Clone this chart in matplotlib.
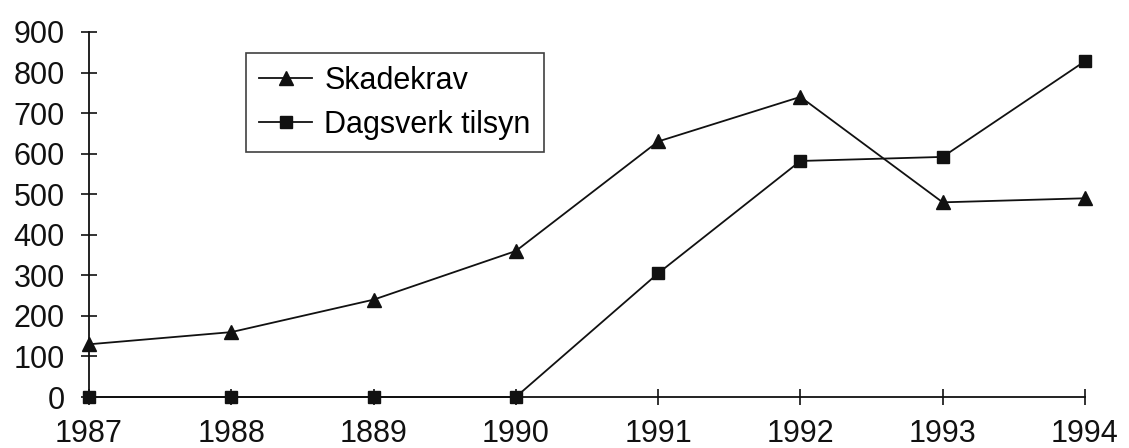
import matplotlib
matplotlib.use('Agg')
import matplotlib.pyplot as plt

plt.rcParams['font.family'] = ['Liberation Sans', 'DejaVu Sans']

# data
years = [1987, 1988, 1989, 1990, 1991, 1992, 1993, 1994]
year_labels = ['1987', '1988', '1889', '1990', '1991', '1992', '1993', '1994']
skadekrav = [130, 160, 240, 360, 630, 740, 480, 490]
dagsverk = [0, 0, 0, 0, 305, 582, 592, 828]
y_ticks = [0, 100, 200, 300, 400, 500, 600, 700, 800, 900]

fig = plt.figure(figsize=(11.29, 4.48), dpi=100)
ax = fig.add_axes([0.0788, 0.1138, 0.8822, 0.8148])

ax.plot(years, skadekrav, color='#111111', lw=1.3, marker='^', ms=9.5,
        clip_on=False, label='Skadekrav', zorder=3)
ax.plot(years, dagsverk, color='#111111', lw=1.3, marker='s', ms=9,
        clip_on=False, label='Dagsverk tilsyn', zorder=3)

ax.set_xlim(1987, 1994)
ax.set_ylim(0, 900)
ax.set_xticks(years)
ax.set_xticklabels(year_labels)
ax.set_yticks(y_ticks)

for s in ['top', 'right']:
    ax.spines[s].set_visible(False)
for s in ['left', 'bottom']:
    ax.spines[s].set_linewidth(1.3)
    ax.spines[s].set_color('#111111')

ax.tick_params(axis='both', direction='inout', length=11, width=1.2,
               color='#111111', labelsize=22, labelcolor='#111111')
ax.tick_params(axis='y', pad=12)
ax.tick_params(axis='x', pad=10)

leg = ax.legend(loc='upper left', bbox_to_anchor=(0.1576, 0.9425),
                fontsize=22, frameon=True, fancybox=False,
                edgecolor='#111111', handlelength=1.75, borderpad=0.42,
                labelspacing=0.45, handletextpad=0.4, borderaxespad=0)
leg.get_frame().set_linewidth(1.2)

fig.savefig('out.png', dpi=100)
